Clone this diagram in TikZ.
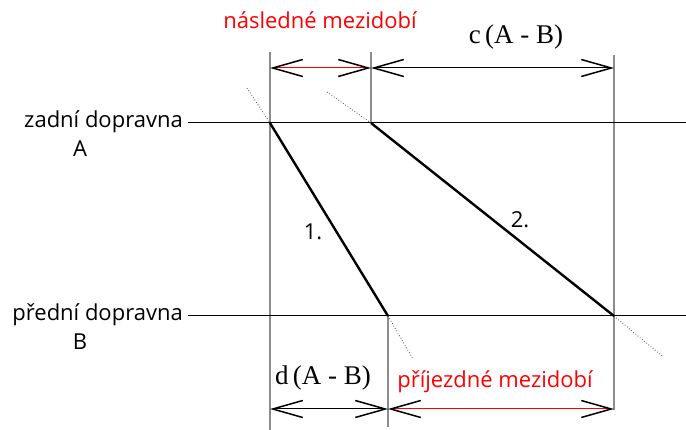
\documentclass[tikz,border=0pt]{standalone}
\usepackage{fontspec}
\setmainfont{Open Sans}
\newfontfamily\serifA{Liberation Serif}
\usetikzlibrary{arrows.meta}
\begin{document}
\begin{tikzpicture}[x=1pt,y=-1pt,
  track/.style={draw=black,line width=1pt},
  guide/.style={draw=black!45,line width=1.6pt},
  run/.style={draw=black,line width=2.4pt},
  ext/.style={draw=black!70,line width=0.8pt,dotted},
  barb/.tip={Straight Barb[length=30pt,width=17pt,line width=1.5pt,color=black]},
  dim/.style={line width=1pt,{barb}-{barb}},
  lbl/.style={font=\fontsize{22}{24}\selectfont,inner sep=0pt},
  red lbl/.style={lbl,text=red},
  ser/.style={font=\serifA\fontsize{27}{29}\selectfont,inner sep=0pt}]
\useasboundingbox (0,0) rectangle (686,430);
% coordinates
\coordinate (A0) at (188,123); \coordinate (A1) at (686,123);
\coordinate (B0) at (188,316); \coordinate (B1) at (686,316);
\coordinate (p1a) at (270,123); \coordinate (p1b) at (388,316);
\coordinate (p2a) at (371,123); \coordinate (p2b) at (614,316);
\coordinate (e1a) at (247,88); \coordinate (e1b) at (413,359);
\coordinate (e2a) at (327,92); \coordinate (e2b) at (662,356);
\coordinate (v1t) at (270,52); \coordinate (v1b) at (270,430);
\coordinate (v2t) at (371,52);
\coordinate (v3t) at (388,316); \coordinate (v3b) at (388,427);
\coordinate (v4t) at (614,55); \coordinate (v4b) at (614,410);
\coordinate (t1) at (270,68); \coordinate (t2) at (371,68); \coordinate (t3) at (614,68);
\coordinate (b1) at (270,409); \coordinate (b2) at (388,409); \coordinate (b3) at (614,409);
% guides
\draw[guide] (v1t) -- (v1b);
\draw[guide] (v2t) -- (p2a);
\draw[guide] (v3t) -- (v3b);
\draw[guide] (v4t) -- (v4b);
% tracks
\draw[track] (A0) -- (A1);
\draw[track] (B0) -- (B1);
% runs
\draw[ext] (e1a) -- (p1a);
\draw[ext] (p1b) -- (e1b);
\draw[ext] (e2a) -- (p2a);
\draw[ext] (p2b) -- (e2b);
\draw[run] (p1a) -- (p1b);
\draw[run] (p2a) -- (p2b);
% dimensions
\draw[dim,red] (t1) -- (t2);
\draw[dim,black] (t2) -- (t3);
\draw[dim,black] (b1) -- (b2);
\draw[dim,red] (b2) -- (b3);
% labels
\node[red lbl] (nm) at (320,20) {následné mezidobí};
\node[ser] (cab) at (516,37) {c\,(A - B)};
\node[lbl,anchor=east] (za) at (183,122) {zadní dopravna};
\node[lbl] (zaA) at (80,149) {A};
\node[lbl,anchor=east] (pr) at (183,315) {přední dopravna};
\node[lbl] (prB) at (80,342) {B};
\node[lbl] (n1) at (313,232) {1.};
\node[lbl] (n2) at (520,220) {2.};
\node[ser] (dab) at (323,378) {d\,(A - B)};
\node[red lbl] (pm) at (495,382) {příjezdné mezidobí};
\end{tikzpicture}
\end{document}
